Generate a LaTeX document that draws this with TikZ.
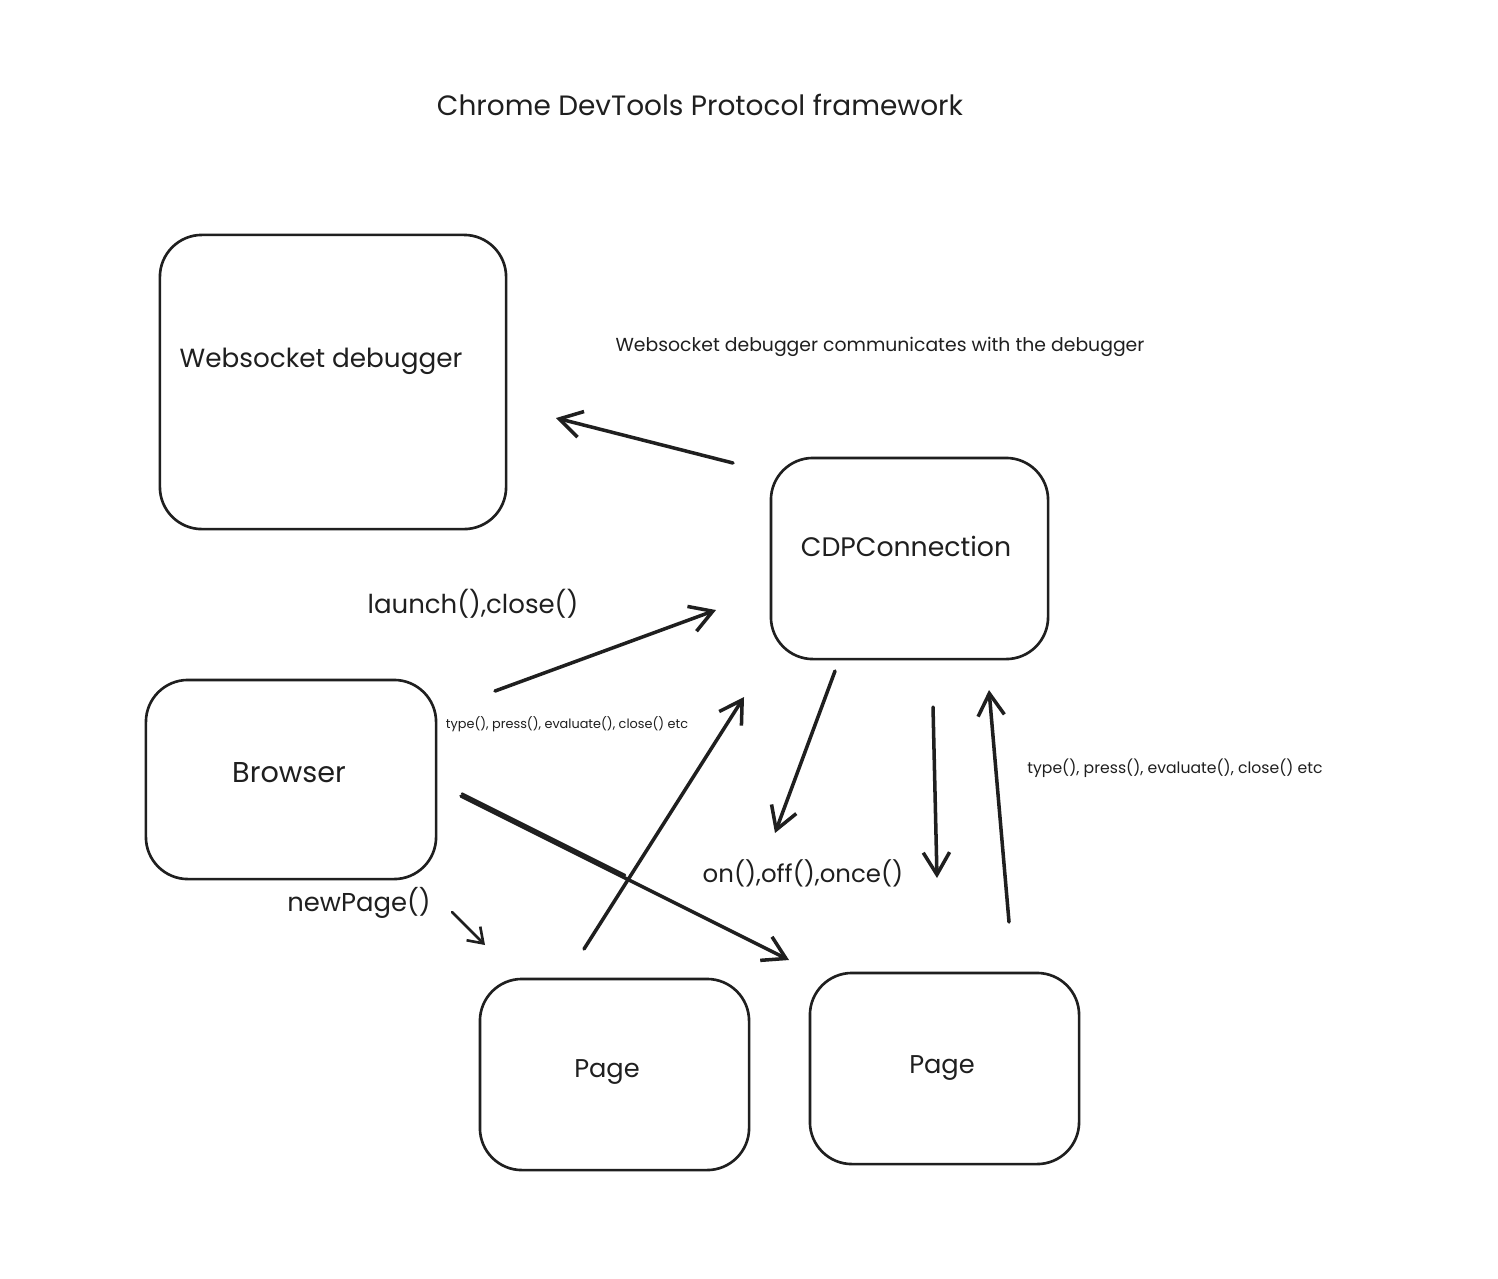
\documentclass[tikz,border=0pt]{standalone}
\usepackage{fontspec}
\setmainfont{Poppins}
\usetikzlibrary{arrows.meta}
\begin{document}
\begin{tikzpicture}[x=0.01cm,y=-0.01cm,
  box/.style={draw=black!88,line width=0.75pt,rounded corners=0.42cm,inner sep=0pt},
  lbl/.style={inner sep=0pt,text=black!88,anchor=center},
  arr/.style={draw=black!88,line width=1pt,line cap=round,-{Straight Barb[length=6.3pt,width=7.5pt,line width=1pt]}},
  sarr/.style={draw=black!88,line width=0.75pt,line cap=round,-{Straight Barb[length=4pt,width=5.5pt,line width=0.75pt]}}]
\useasboundingbox (0,0) rectangle (1498,1278);
\fill[white] (0,0) rectangle (1498,1278);
% boxes
\node[box,minimum width=3.46cm,minimum height=2.94cm] (ws) at (333,382) {};
\node[box,minimum width=2.77cm,minimum height=2.01cm] (cdp) at (909.5,558.5) {};
\node[box,minimum width=2.90cm,minimum height=1.99cm] (browser) at (291,779.5) {};
\node[box,minimum width=2.69cm,minimum height=1.91cm] (page1) at (614.5,1074.5) {};
\node[box,minimum width=2.69cm,minimum height=1.91cm] (page2) at (944.5,1068.5) {};
% box texts
\node[lbl,font=\fontsize{7.47pt}{9pt}\selectfont] (wst) at (321,361) {Websocket debugger};
\node[lbl,font=\fontsize{7.6pt}{9pt}\selectfont] (cdpt) at (906,546) {CDPConnection};
\node[lbl,font=\fontsize{8.15pt}{9pt}\selectfont] (brt) at (289,773) {Browser};
\node[lbl,font=\fontsize{7.3pt}{9pt}\selectfont] (p1t) at (607,1072) {Page};
\node[lbl,font=\fontsize{7.3pt}{9pt}\selectfont] (p2t) at (942,1068) {Page};
% other texts
\node[lbl,font=\fontsize{7.95pt}{9pt}\selectfont] (title) at (700,105) {Chrome DevTools Protocol framework};
\node[lbl,font=\fontsize{5.35pt}{6pt}\selectfont] (note) at (880,347) {Websocket debugger communicates with the debugger};
\node[lbl,font=\fontsize{7.4pt}{8pt}\selectfont] (launch) at (473,604) {launch(),close()};
\node[lbl,font=\fontsize{3.65pt}{4pt}\selectfont] (type1) at (567,724) {type(), press(), evaluate(), close() etc};
\node[lbl,font=\fontsize{4.45pt}{5pt}\selectfont] (type2) at (1175,768) {type(), press(), evaluate(), close() etc};
\node[lbl,font=\fontsize{6.95pt}{8pt}\selectfont] (onoff) at (803,873) {on(),off(),once()};
\node[lbl,font=\fontsize{7.35pt}{8pt}\selectfont] (newpage) at (359,903) {newPage()};
% arrow end points
\coordinate (a1s) at (733,463); \coordinate (a1e) at (556,418);
\coordinate (a2s) at (495,691); \coordinate (a2e) at (716,610);
\coordinate (a3s) at (584,949); \coordinate (a3e) at (744,697);
\coordinate (a4s) at (835,671); \coordinate (a4e) at (775,833);
\coordinate (a5s) at (933,707); \coordinate (a5e) at (937,878);
\coordinate (a6s) at (1009,922); \coordinate (a6e) at (989,690);
\coordinate (a7s) at (461,796); \coordinate (a7e) at (789,960);
\coordinate (a7d) at (462,793.5); \coordinate (a7m) at (625,875);
\coordinate (a8s) at (452,912); \coordinate (a8e) at (485,945);
\draw[arr] (a1s) -- (a1e);
\draw[arr] (a2s) -- (a2e);
\draw[arr] (a3s) -- (a3e);
\draw[arr] (a4s) -- (a4e);
\draw[arr] (a5s) -- (a5e);
\draw[arr] (a6s) -- (a6e);
\draw[arr] (a7s) -- (a7e);
\draw[draw=black!88,line width=0.7pt,line cap=round] (a7d) -- (a7m);
\draw[sarr] (a8s) -- (a8e);
\end{tikzpicture}
\end{document}
